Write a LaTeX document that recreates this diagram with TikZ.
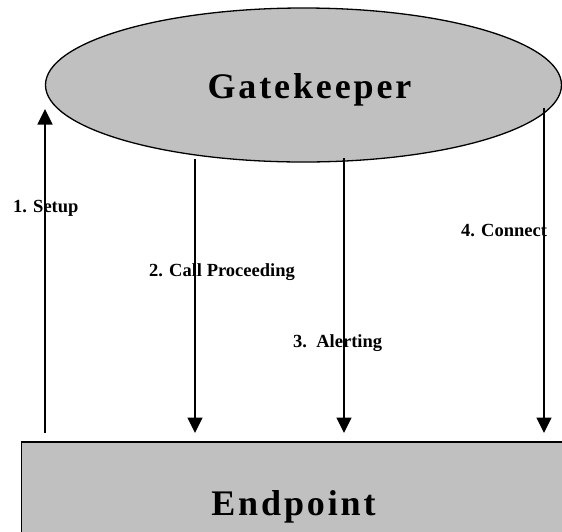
\documentclass[tikz,border=0pt]{standalone}
\usepackage{fontspec}
\setmainfont{Liberation Serif}
\newfontfamily\titlefont[LetterSpace=8.0]{Liberation Serif}
\usetikzlibrary{shapes.geometric,arrows.meta}
\definecolor{entitygray}{RGB}{192,192,192}
\tikzset{
  entity/.style={draw=black, fill=entitygray, line width=1.3pt, inner sep=0pt},
  bigtext/.style={font=\titlefont\bfseries\fontsize{36}{40}\selectfont, inner sep=0pt, anchor=base},
  msglabel/.style={font=\bfseries\fontsize{18.5}{22}\selectfont, inner sep=0pt, anchor=base west},
  msg/.style={line width=1.5pt, -{Triangle[length=15.5pt,width=15pt]}},
}
\begin{document}
\begin{tikzpicture}[x=1pt,y=-1pt]
\useasboundingbox (0,0) rectangle (562,531);
\clip (0,0) rectangle (562,531);

% the two entities
\node[entity, ellipse, minimum width=516pt, minimum height=154pt] (gk) at (303.5,85) {};
\node[entity, rectangle, line width=1.6pt, minimum width=580pt, minimum height=130pt, anchor=north west] (ep) at (20.5,441) {};
\node[bigtext] (gkname) at (309.5,98) {Gatekeeper};
\node[bigtext] (epname) at (293.5,515) {Endpoint};

% message labels
\node[msglabel] (l1) at (13,212) {1. Setup};
\node[msglabel] (l2) at (149,276) {2. Call Proceeding};
\node[msglabel] (l3) at (293,347) {3.\ \ Alerting};
\node[msglabel] (l4) at (461,236) {4. Connect};

% ends of the message arrows
\coordinate (setupfoot) at (45,433);
\coordinate (setuptip)  at (45,109);
\coordinate (procstart) at (195,159);
\coordinate (proctip)   at (195,433);
\coordinate (alertstart) at (344,158);
\coordinate (alerttip)   at (344,433);
\coordinate (connstart) at (544,108);
\coordinate (conntip)   at (544,433);

\draw[msg] (setupfoot) -- (setuptip);
\draw[msg] (procstart) -- (proctip);
\draw[msg] (alertstart) -- (alerttip);
\draw[msg] (connstart) -- (conntip);
\end{tikzpicture}
\end{document}
